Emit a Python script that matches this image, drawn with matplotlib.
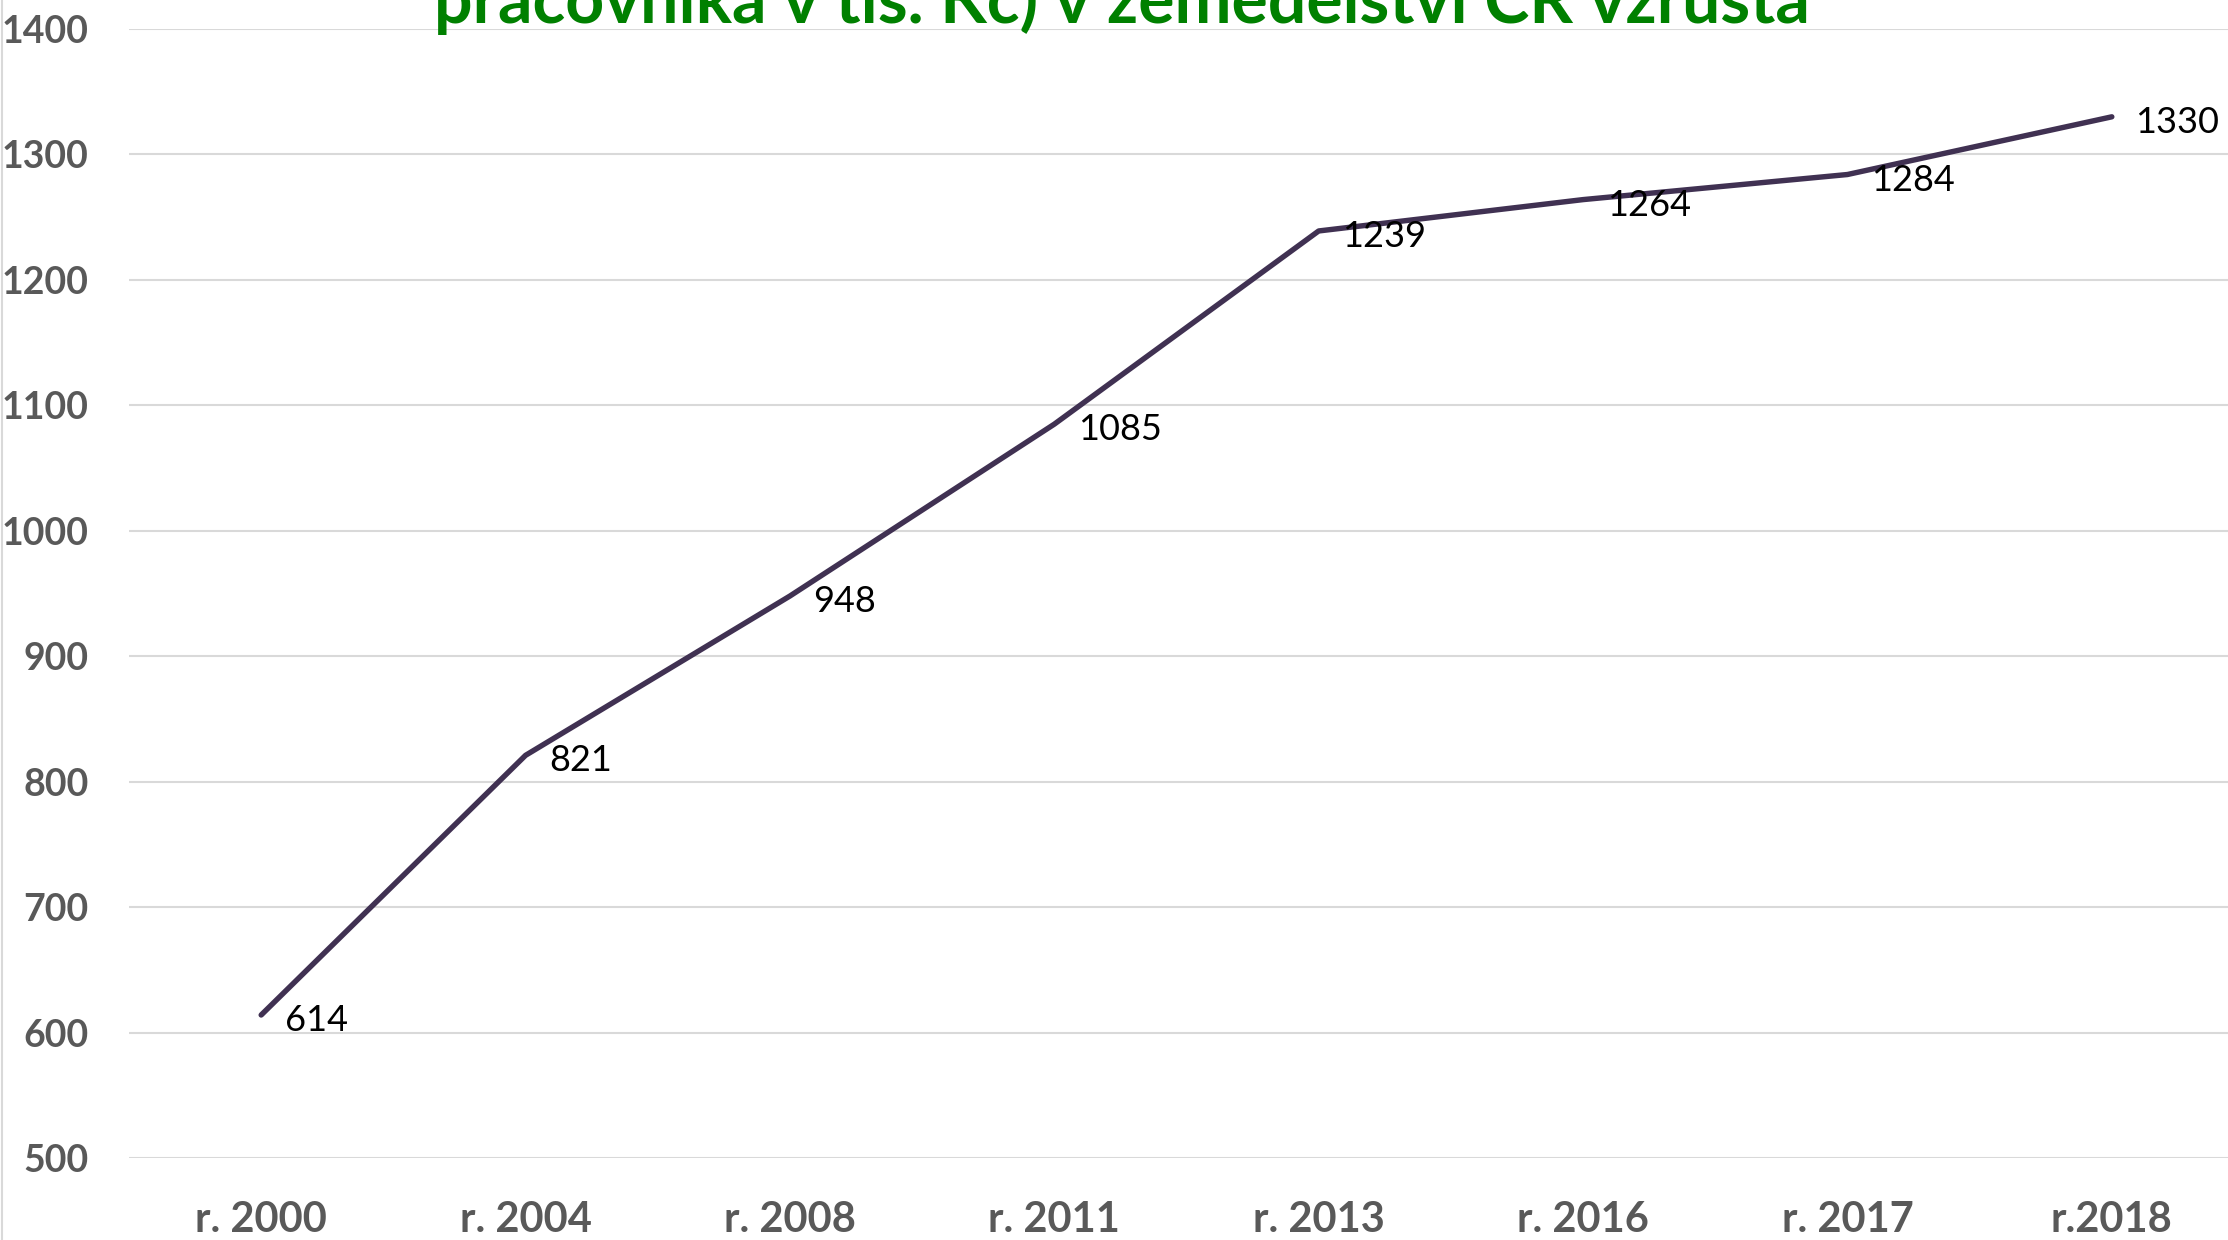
import matplotlib
matplotlib.use("Agg")
import matplotlib.pyplot as plt
from matplotlib.lines import Line2D

categories = ["r. 2000", "r. 2004", "r. 2008", "r. 2011", "r. 2013", "r. 2016", "r. 2017", "r.2018"]
values = [614, 821, 948, 1085, 1239, 1264, 1284, 1330]
yticks = [500, 600, 700, 800, 900, 1000, 1100, 1200, 1300, 1400]
title = "pracovníka v tis. Kč) v zemědělství ČR vzrůstá"

W, H = 2228, 1240
fig = plt.figure(figsize=(W / 100, H / 100), dpi=100)
fig.patch.set_facecolor("white")

left_px, right_px = 129, 2244
top_px, bottom_px = 29, 1158
ax = fig.add_axes([left_px / W, 1 - bottom_px / H,
                   (right_px - left_px) / W, (bottom_px - top_px) / H])
ax.set_xlim(-0.5, len(categories) - 0.5)
ax.set_ylim(500, 1400)
ax.yaxis.grid(True, color="#D9D9D9", linewidth=1.5)
ax.set_axisbelow(True)
for s in ax.spines.values():
    s.set_visible(False)
ax.tick_params(axis="both", length=0)

ax.set_yticks(yticks)
ax.set_yticklabels([str(v) for v in yticks], fontsize=27, fontweight="bold",
                   color="#595959", family=["Lato", "DejaVu Sans"])
ax.tick_params(axis="y", pad=29)

x = list(range(len(categories)))
ax.set_xticks(x)
ax.set_xticklabels(categories, fontsize=30, fontweight="bold", color="#595959",
                   family=["Lato", "DejaVu Sans"])
ax.tick_params(axis="x", pad=31)

ax.plot(x, values, color="#403152", linewidth=3.9, solid_capstyle="round",
        solid_joinstyle="round", zorder=3)

for xi, v in zip(x, values):
    ax.annotate(str(v), (xi, v), xytext=(17, -4), textcoords="offset points",
                ha="left", va="center", fontsize=26, color="black",
                family=["Lato", "DejaVu Sans"], zorder=4)

fig.text(1122 / W, 1 - 23 / H, title, ha="center", va="baseline",
         fontsize=49, fontweight="bold", color="#008000",
         family=["Lato", "DejaVu Sans"])

fig.add_artist(Line2D([2 / W, 2 / W], [0, 1], transform=fig.transFigure,
                      color="#D9D9D9", linewidth=1.5))

fig.savefig("out.png", dpi=100, facecolor="white")
